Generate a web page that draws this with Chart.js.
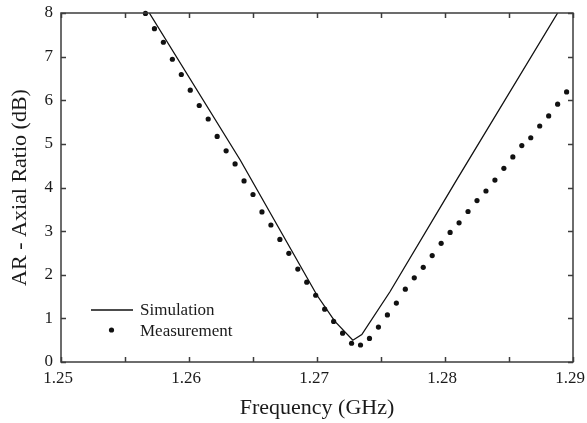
<!DOCTYPE html>
<html>
<head>
<meta charset="utf-8">
<script src="https://cdn.jsdelivr.net/npm/chart.js@4/dist/chart.umd.min.js"></script>
<style>
  html, body { margin: 0; padding: 0; background: #ffffff; }
  #wrap { width: 587px; height: 423px; }
</style>
</head>
<body>
<div id="wrap"><canvas id="arChart" width="587" height="423"></canvas></div>
<script>
// Measured axial ratio (dB) against frequency (GHz)
const measFreq = [
  1.2566, 1.2573, 1.2580, 1.2587, 1.2594, 1.2601, 1.2608, 1.2615, 1.2622, 1.2629,
  1.2636, 1.2643, 1.2650, 1.2657, 1.2664, 1.2671, 1.2678, 1.2685, 1.2692, 1.2699,
  1.2706, 1.2713, 1.2720, 1.2727, 1.2734, 1.2741, 1.2748, 1.2755, 1.2762, 1.2769,
  1.2776, 1.2783, 1.2790, 1.2797, 1.2804, 1.2811, 1.2818, 1.2825, 1.2832, 1.2839,
  1.2846, 1.2853, 1.2860, 1.2867, 1.2874, 1.2881, 1.2888, 1.2895
];
const measAR = [
  7.99, 7.64, 7.33, 6.94, 6.59, 6.23, 5.88, 5.57, 5.17, 4.84,
  4.54, 4.15, 3.84, 3.44, 3.14, 2.81, 2.49, 2.13, 1.83, 1.53,
  1.21, 0.93, 0.66, 0.43, 0.39, 0.54, 0.80, 1.08, 1.35, 1.67,
  1.93, 2.17, 2.44, 2.72, 2.97, 3.19, 3.45, 3.70, 3.92, 4.17,
  4.44, 4.70, 4.96, 5.14, 5.41, 5.64, 5.91, 6.19
];

// Simulated axial ratio (dB) against frequency (GHz)
const simFreq = [1.2569, 1.2640, 1.2700, 1.2714, 1.2728, 1.2735, 1.2757, 1.2809, 1.2888];
const simAR   = [8.00,   4.63,   1.53,   0.93,   0.50,   0.63,   1.61,   4.17,   8.00];

// Axis settings and labels
const xMin = 1.25, xMax = 1.29, xStep = 0.005;
const yMin = 0, yMax = 8, yStep = 1;
const xTitle = 'Frequency (GHz)';
const yTitle = 'AR - Axial Ratio (dB)';
const seriesNames = ['Simulation', 'Measurement'];

const toPoints = (xs, ys) => xs.map((x, i) => ({ x: x, y: ys[i] }));

const serif = '"Liberation Serif", "Times New Roman", serif';
const ink = '#1a1a1a';
const frameColor = '#3c3c3c';

// Box frame with inward ticks on all four sides
const framePlugin = {
  id: 'frameTicks',
  afterDraw(chart) {
    const { ctx, chartArea: a, scales } = chart;
    const len = 5;
    ctx.save();
    ctx.strokeStyle = frameColor;
    ctx.lineWidth = 1.5;
    ctx.beginPath();
    scales.x.ticks.forEach(t => {
      const px = Math.round(scales.x.getPixelForValue(t.value)) + 0.5;
      ctx.moveTo(px, a.bottom); ctx.lineTo(px, a.bottom - len);
      ctx.moveTo(px, a.top); ctx.lineTo(px, a.top + len);
    });
    scales.y.ticks.forEach(t => {
      const py = Math.round(scales.y.getPixelForValue(t.value)) + 0.5;
      ctx.moveTo(a.left, py); ctx.lineTo(a.left + len, py);
      ctx.moveTo(a.right, py); ctx.lineTo(a.right - len, py);
    });
    ctx.stroke();
    ctx.strokeRect(a.left, a.top, a.right - a.left, a.bottom - a.top);
    ctx.restore();
  }
};

// Legend drawn in the lower-left corner of the plot area
const legendPlugin = {
  id: 'innerLegend',
  afterDraw(chart) {
    const { ctx, chartArea: a } = chart;
    const sim = chart.data.datasets[0];
    const meas = chart.data.datasets[1];
    ctx.save();
    ctx.font = '17px ' + serif;
    ctx.fillStyle = ink;
    ctx.textBaseline = 'middle';
    ctx.textAlign = 'left';
    const y1 = a.bottom - 52.5, y2 = a.bottom - 31;
    ctx.strokeStyle = sim.borderColor;
    ctx.lineWidth = sim.borderWidth;
    ctx.beginPath();
    ctx.moveTo(a.left + 30, y1 + 0.5);
    ctx.lineTo(a.left + 72, y1 + 0.5);
    ctx.stroke();
    ctx.fillText(seriesNames[0], a.left + 79, y1 + 1);
    ctx.fillStyle = meas.pointBackgroundColor;
    ctx.beginPath();
    ctx.arc(a.left + 50.5, y2 - 1, meas.pointRadius, 0, Math.PI * 2);
    ctx.fill();
    ctx.fillStyle = ink;
    ctx.fillText(seriesNames[1], a.left + 79, y2 + 1);
    ctx.restore();
  }
};

new Chart(document.getElementById('arChart'), {
  type: 'scatter',
  data: {
    datasets: [
      {
        label: seriesNames[0],
        data: toPoints(simFreq, simAR),
        showLine: true,
        borderColor: '#111111',
        borderWidth: 1.3,
        pointRadius: 0,
        tension: 0
      },
      {
        label: seriesNames[1],
        data: toPoints(measFreq, measAR),
        showLine: false,
        pointRadius: 2.6,
        pointBackgroundColor: '#111111',
        pointBorderWidth: 0,
        clip: false
      }
    ]
  },
  options: {
    responsive: false,
    animation: false,
    devicePixelRatio: 1,
    layout: { padding: { top: 13, right: 14, left: 0, bottom: 0 } },
    plugins: { legend: { display: false }, tooltip: { enabled: false } },
    scales: {
      x: {
        type: 'linear',
        min: xMin, max: xMax,
        afterFit(scale) {
          scale.height = 61;
          scale.paddingLeft = 0;
          scale.paddingRight = 0;
        },
        border: { display: false },
        grid: { display: false, drawTicks: false },
        ticks: {
          stepSize: xStep,
          padding: 6,
          labelOffset: -3,
          maxRotation: 0,
          autoSkip: false,
          color: ink,
          font: { family: serif, size: 17 },
          callback: v => (Math.abs(v * 100 - Math.round(v * 100)) < 1e-6 ? v.toFixed(2) : '')
        },
        title: {
          display: true,
          text: xTitle,
          color: ink,
          font: { family: serif, size: 22 },
          padding: { top: 0, bottom: 2 }
        }
      },
      y: {
        type: 'linear',
        min: yMin, max: yMax,
        afterFit(scale) {
          scale.width = 61;
          scale.paddingTop = 0;
          scale.paddingBottom = 0;
        },
        border: { display: false },
        grid: { display: false, drawTicks: false },
        ticks: {
          stepSize: yStep,
          padding: 8,
          color: ink,
          font: { family: serif, size: 17 }
        },
        title: {
          display: true,
          text: yTitle,
          color: ink,
          font: { family: serif, size: 22 },
          padding: { top: 7, bottom: 0 }
        }
      }
    }
  },
  plugins: [framePlugin, legendPlugin]
});
</script>
</body>
</html>
